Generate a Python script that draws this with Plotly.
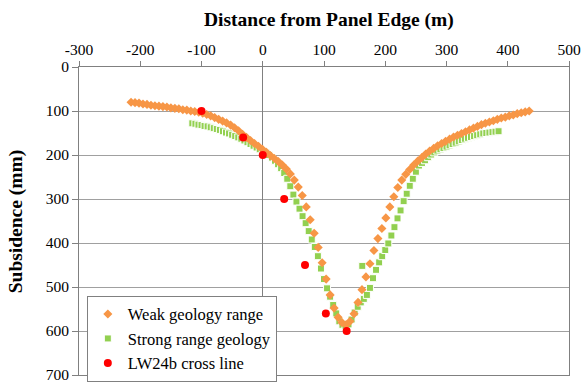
import plotly.graph_objects as go

# Distance from panel edge (m) and predicted subsidence (mm)
weak_x = [-215, -208.5, -202, -195.5, -189, -182.5, -176, -169.5, -163, -156.5,
          -150, -143.5, -137, -130.5, -124, -117.5, -111, -104.5, -98, -91.5,
          -85, -78.5, -72, -65.5, -59, -52.5, -46, -39.5, -33, -26.5,
          -20, -13.5, -7, -0.5, 6, 12.5, 19, 25.5, 32, 38.5,
          45, 51.5, 58, 64.5, 71, 77.5, 84, 90.5, 97, 103.5,
          110, 116.5, 123, 129.5, 136, 142.5, 149, 155.5, 162, 168.5,
          175, 181.5, 188, 194.5, 201, 207.5, 214, 220.5, 227, 233.5,
          240, 246.5, 253, 259.5, 266, 272.5, 279, 285.5, 292, 298.5,
          305, 311.5, 318, 324.5, 331, 337.5, 344, 350.5, 357, 363.5,
          370, 376.5, 383, 389.5, 396, 402.5, 409, 415.5, 422, 428.5, 435]
weak_y = [80, 81, 82, 84, 85, 87, 88, 89, 90, 91,
          93, 94, 95, 97, 98, 100, 101, 103, 105, 108,
          111, 115, 119, 123, 127, 132, 138, 145, 153, 160,
          167, 174, 180, 187, 194, 201, 208, 215, 223, 232,
          243, 257, 273, 292, 318, 347, 378, 410, 445, 482,
          518, 548, 569, 581, 586, 578, 561, 535, 506, 477,
          447, 417, 390, 367, 343, 318, 295, 274, 257, 244,
          233, 223, 214, 206, 198, 191, 185, 179, 174, 169,
          164, 159, 155, 151, 147, 143, 139, 135, 131, 128,
          125, 122, 119, 116, 114, 111, 109, 106, 104, 102, 100]

strong_x = [-115, -110, -105, -100, -95, -90, -85, -80, -75, -70,
            -65, -60, -55, -50, -45, -40, -35, -30, -25, -20,
            -15, -10, -5, 0, 5, 10, 15, 20, 25, 30,
            35, 40, 45, 50, 55, 60, 65, 70, 75, 80,
            85, 90, 95, 100, 105, 110, 115, 120, 125, 130,
            135, 140, 145, 150, 155, 160, 162.5, 165, 170, 175, 180,
            185, 190, 195, 200, 205, 210, 215, 220, 225, 230,
            235, 240, 245, 250, 255, 260, 265, 270, 275, 280,
            285, 290, 295, 300, 305, 310, 315, 320, 325, 330,
            335, 340, 345, 350, 355, 360, 365, 370, 375, 380, 385]
strong_y = [128, 129, 131, 132, 134, 135, 137, 139, 141, 143,
            146, 149, 151, 154, 157, 160, 163, 167, 171, 175,
            179, 183, 187, 191, 195, 200, 206, 213, 221, 230,
            241, 254, 271, 290, 306, 322, 339, 355, 373, 392,
            409, 430, 458, 482, 503, 522, 541, 560, 578, 586,
            588, 585, 574, 558, 545, 535, 452, 527, 518, 502, 480,
            461, 444, 430, 416, 401, 383, 364, 344, 326, 305,
            288, 270, 254, 238, 224, 218, 212, 205, 199, 194,
            190, 187, 184, 181, 178, 175, 172, 169, 166, 163,
            161, 159, 157, 155, 153, 151, 150, 149, 148, 147, 146]

cross_x = [-100, -32, 0, 35, 69, 103, 137]
cross_y = [100, 160, 200, 300, 450, 560, 600]

x_ticks = [-300, -200, -100, 0, 100, 200, 300, 400, 500]
y_ticks = [0, 100, 200, 300, 400, 500, 600, 700]

SERIF = "Liberation Serif"
AXIS_GREY = "#808080"
GRID_GREY = "#a0a0a0"

fig = go.Figure()

fig.add_trace(go.Scatter(
    x=strong_x, y=strong_y, mode="markers", name="Strong range geology",
    legendrank=2,
    marker=dict(symbol="square", size=7, color="#92D050",
                line=dict(color="white", width=1)),
))
fig.add_trace(go.Scatter(
    x=weak_x, y=weak_y, mode="markers", name="Weak geology range",
    legendrank=1,
    marker=dict(symbol="diamond", size=7, color="#F79646", line=dict(width=0)),
))
fig.add_trace(go.Scatter(
    x=cross_x, y=cross_y, mode="markers", name="LW24b cross line",
    legendrank=3,
    marker=dict(symbol="circle", size=8, color="#FF0000", line=dict(width=0)),
))

fig.update_layout(
    width=588, height=390,
    margin=dict(l=79, r=17, t=67, b=7),
    paper_bgcolor="white", plot_bgcolor="white",
    font=dict(family=SERIF, size=15, color="black"),
    showlegend=True,
    legend=dict(
        x=0.016, y=-0.022, xanchor="left", yanchor="bottom",
        bgcolor="white", bordercolor=AXIS_GREY, borderwidth=1,
        font=dict(family=SERIF, size=16.5, color="black"),
        itemwidth=30, tracegroupgap=0,
    ),
    xaxis=dict(
        side="top", range=[-300, 500], tickvals=x_ticks,
        ticktext=[str(v) for v in x_ticks],
        ticks="outside", ticklen=5, tickcolor=AXIS_GREY,
        showline=True, linecolor=AXIS_GREY, linewidth=1, mirror=True,
        showgrid=False, zeroline=True, zerolinecolor=AXIS_GREY, zerolinewidth=1,
        tickfont=dict(family=SERIF, size=15.5, color="black"),
        ticklabeloverflow="allow",
    ),
    yaxis=dict(
        range=[700, 0], tickvals=y_ticks, ticktext=[str(v) for v in y_ticks],
        ticks="outside", ticklen=6, tickcolor=AXIS_GREY,
        showline=True, linecolor=AXIS_GREY, linewidth=1, mirror=True,
        showgrid=True, gridcolor=GRID_GREY, gridwidth=1, zeroline=False,
        tickfont=dict(family=SERIF, size=15.5, color="black"),
        ticklabeloverflow="allow",
    ),
    annotations=[
        dict(text="<b>Distance from Panel Edge (m)</b>", xref="paper", yref="paper",
             x=0.51, y=1.152, xanchor="center", yanchor="middle", showarrow=False,
             font=dict(family=SERIF, size=19.5, color="black")),
        dict(text="<b>Subsidence (mm)</b>", xref="paper", yref="paper",
             x=-0.128, y=0.5, xanchor="center", yanchor="middle", showarrow=False,
             textangle=-90, font=dict(family=SERIF, size=19.5, color="black")),
    ],
)

fig.write_html("out.html")
